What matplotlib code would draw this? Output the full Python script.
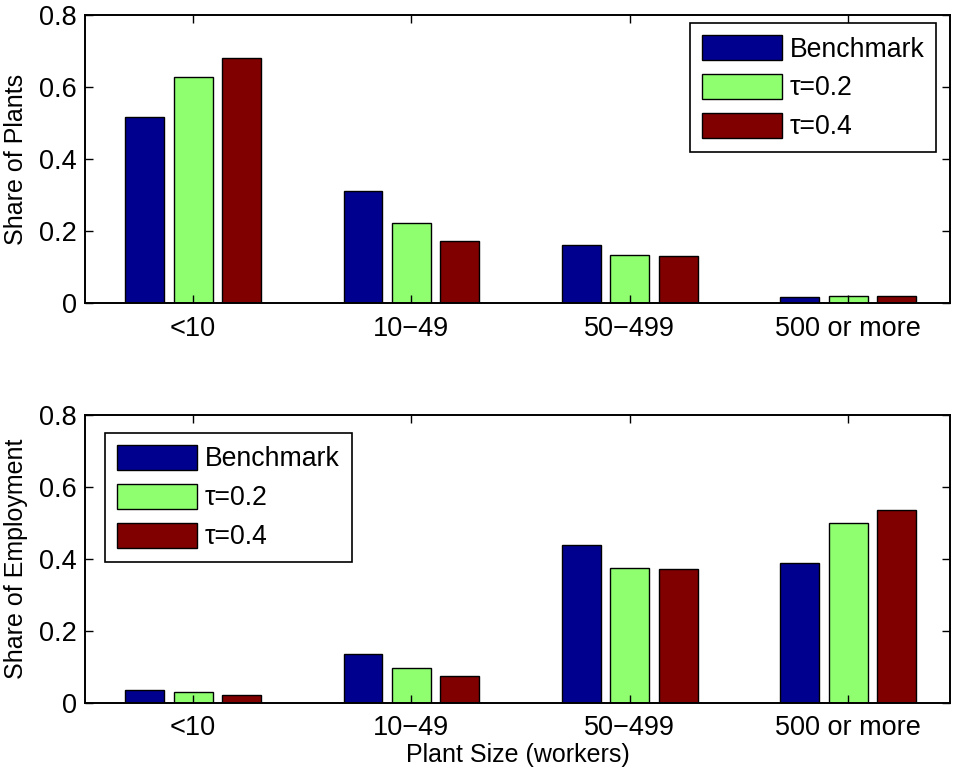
import numpy as np
import matplotlib.pyplot as plt

plt.rcParams['font.family'] = ['Liberation Sans', 'DejaVu Sans']
plt.rcParams['font.size'] = 18

categories = ['<10', '10\u221249', '50\u2212499', '500 or more']
series = ['Benchmark', '\u03c4=0.2', '\u03c4=0.4']
colors = ['#00008F', '#8FFF70', '#800000']

plants_benchmark = [0.516, 0.312, 0.161, 0.016]
plants_tau02 = [0.629, 0.223, 0.133, 0.019]
plants_tau04 = [0.681, 0.172, 0.131, 0.020]

employ_benchmark = [0.037, 0.137, 0.439, 0.389]
employ_tau02 = [0.030, 0.097, 0.375, 0.501]
employ_tau04 = [0.021, 0.076, 0.371, 0.536]


def draw(ax, values, ylabel, legend_loc, anchor):
    x = np.arange(1, len(categories) + 1)
    offsets = [-0.222, 0.0, 0.222]
    for vals, off, col, name in zip(values, offsets, colors, series):
        ax.bar(x + off, vals, width=0.178, color=col, edgecolor='black',
               linewidth=1.0, label=name)
    ax.set_xlim(0.505, 4.467)
    ax.set_ylim(0, 0.8)
    ax.set_xticks(x)
    ax.set_xticklabels(categories)
    ax.set_yticks([0, 0.2, 0.4, 0.6, 0.8])
    ax.set_yticklabels(['0', '0.2', '0.4', '0.6', '0.8'])
    ax.set_ylabel(ylabel, labelpad=8)
    ax.tick_params(direction='in', length=6, width=1, top=True, right=True,
                   pad=6, labelsize=19.5)
    ax.tick_params(axis='x', pad=9)
    for s in ax.spines.values():
        s.set_linewidth(1.4)
    leg = ax.legend(loc=legend_loc, bbox_to_anchor=anchor, fontsize=19.2,
                    handlelength=3.0, handleheight=1.05,
                    labelspacing=0.43, handletextpad=0.3, borderpad=0.45,
                    fancybox=False, framealpha=1, borderaxespad=0)
    leg.get_frame().set_edgecolor('black')
    leg.get_frame().set_linewidth(1.2)


fig = plt.figure(figsize=(9.57, 7.73), dpi=100)
ax1 = fig.add_axes([0.0888, 0.608, 0.904, 0.3726])
ax2 = fig.add_axes([0.0888, 0.0906, 0.904, 0.3726])

draw(ax1, [plants_benchmark, plants_tau02, plants_tau04], 'Share of Plants',
     'upper right', (0.984, 0.972))
draw(ax2, [employ_benchmark, employ_tau02, employ_tau04], 'Share of Employment',
     'upper left', (0.023, 0.9375))
ax2.set_xlabel('Plant Size (workers)', labelpad=1)

fig.savefig('out.png', dpi=100)
